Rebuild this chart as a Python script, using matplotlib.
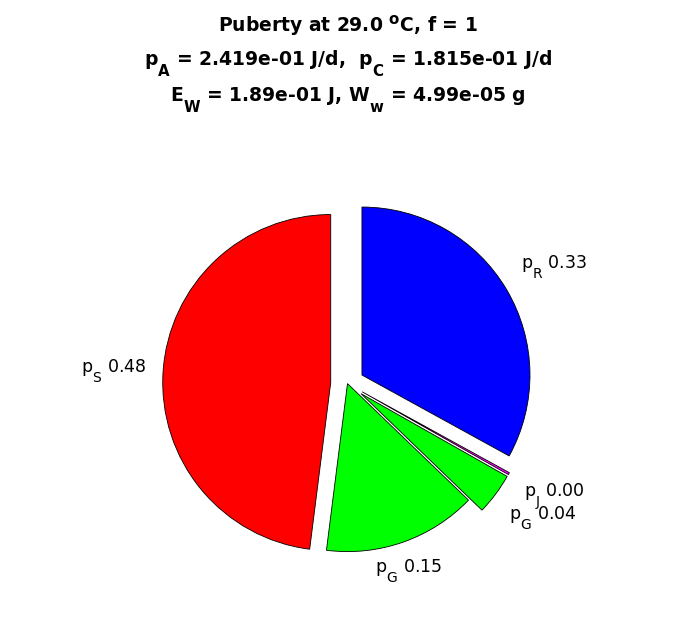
import matplotlib
matplotlib.use("Agg")
import matplotlib.pyplot as plt
import matplotlib._mathtext as mt
import numpy as np

plt.rcParams['font.family'] = ['DejaVu Sans']
plt.rcParams['mathtext.default'] = 'regular'

# bigger, lower subscripts like the original tex renderer
mt.SHRINK_FACTOR = 0.8
for k in [mt.FontConstantsBase] + list(mt._font_constant_mapping.values()):
    k.sub1 = 1.05

# fractions of pA, clockwise from the top
names = ["p$_R$", "p$_J$", "p$_G$", "p$_G$", "p$_S$"]
fracs = [0.33, 0.002, 0.04, 0.148, 0.48]
shown = [0.33, 0.00, 0.04, 0.15, 0.48]
colors = [(0, 0, 1), (1, 0, 1), (0, 1, 0), (0, 1, 0), (1, 0, 0)]
explode = [0.1, 0.1, 0.1, 0.0, 0.1]

title_lines = [
    "Puberty at 29.0 $^o$C, f = 1",
    "p$_A$ = 2.419e-01 J/d,  p$_C$ = 1.815e-01 J/d",
    "E$_W$ = 1.89e-01 J, W$_w$ = 4.99e-05 g",
]
title_base = [32, 65, 101]

W, H = 696, 618
cx, cy, R = 347.5, 383.6, 168.0

fig = plt.figure(figsize=(W / 100, H / 100), dpi=100)
ax = fig.add_axes([0, 0, 1, 1])
wedges, _ = ax.pie(fracs, colors=colors, explode=explode, startangle=90,
                   counterclock=False, normalize=False,
                   wedgeprops=dict(edgecolor='black', linewidth=0.6))
ax.set_aspect('auto')
ax.set_xlim(-cx / R, (W - cx) / R)
ax.set_ylim(-(H - cy) / R, cy / R)
ax.axis('off')

for w, n, v, e in zip(wedges, names, shown, explode):
    mid = np.deg2rad((w.theta1 + w.theta2) / 2)
    c, s = np.cos(mid), np.sin(mid)
    d = 1.1 + e
    ha = 'center' if abs(c) < 0.5 else ('left' if c > 0 else 'right')
    va = 'center' if abs(s) < 0.3 else ('bottom' if s > 0 else 'top')
    ax.text(d * c, d * s, f"{n} {v:.2f}", ha=ha, va=va, fontsize=12.5)

for line, yb in zip(title_lines, title_base):
    fig.text(0.5, 1 - yb / H, line, ha='center', va='baseline',
             fontsize=13.5, fontweight='bold')

fig.savefig("out.png", dpi=100)
